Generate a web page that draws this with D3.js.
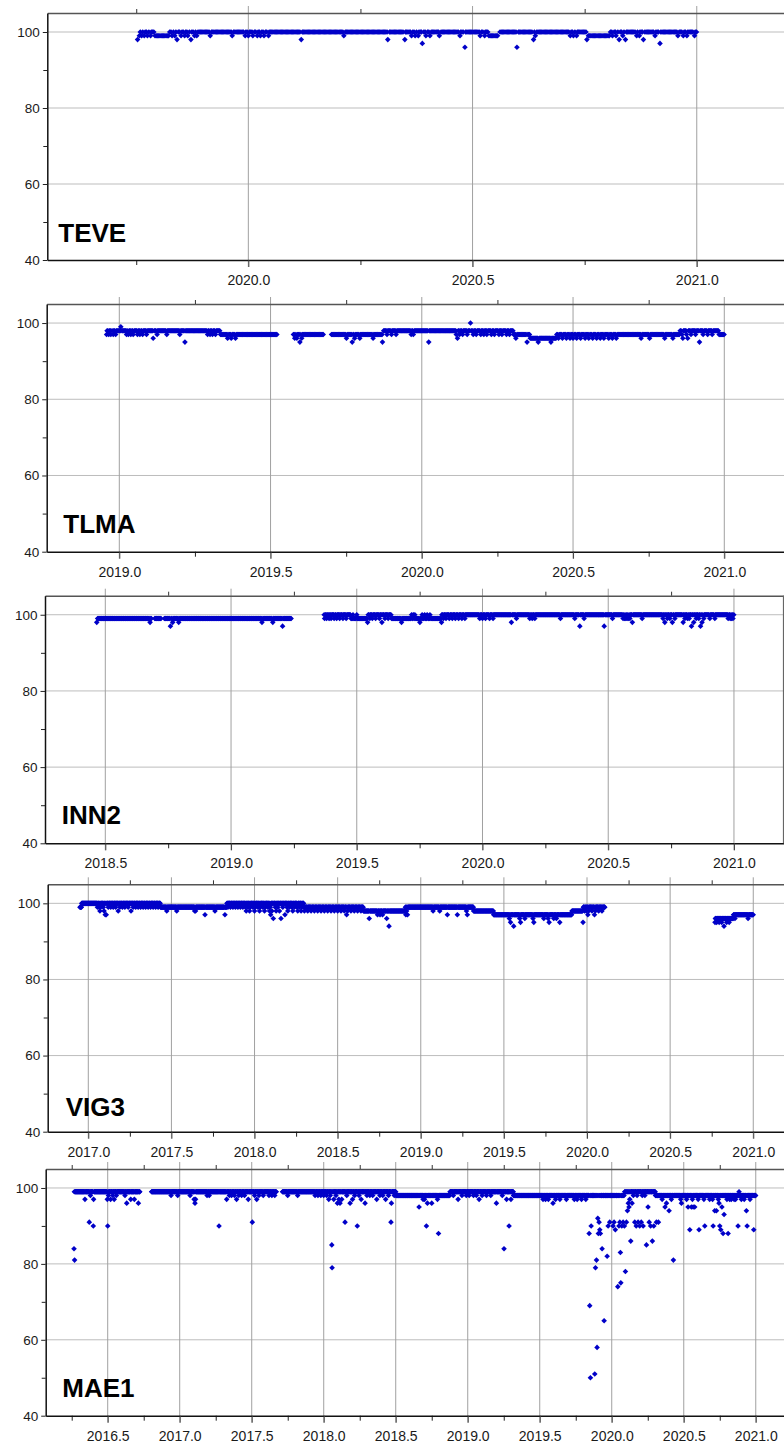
<!DOCTYPE html>
<html>
<head>
<meta charset="utf-8">
<script src="https://cdn.jsdelivr.net/npm/d3@7"></script>
<style>
  html, body { margin: 0; padding: 0; background: #fff; }
  svg { display: block; }
</style>
</head>
<body>
<svg id="chart" width="784" height="1443"></svg>
<script>
// ---- data: daily percentage values per station, decimal years ----
// runs: [start, end, value] stretches where every day has the same value
// dips: [time, value] single days that differ from the run around them

const stationNames = ["TEVE", "TLMA", "INN2", "VIG3", "MAE1"];

const yTicks = [40, 60, 80, 100];
const yMinorTicks = [50, 70, 90];

const xTicksTEVE = [2020.0, 2020.5, 2021.0];
const xTicksTLMA = [2019.0, 2019.5, 2020.0, 2020.5, 2021.0];
const xTicksINN2 = [2018.5, 2019.0, 2019.5, 2020.0, 2020.5, 2021.0];
const xTicksVIG3 = [2017.0, 2017.5, 2018.0, 2018.5, 2019.0, 2019.5, 2020.0, 2020.5, 2021.0];
const xTicksMAE1 = [2016.5, 2017.0, 2017.5, 2018.0, 2018.5, 2019.0, 2019.5, 2020.0, 2020.5, 2021.0];

const teveRuns = [
  [2019.753, 2019.788, 100], [2019.791, 2019.822, 99], [2019.825, 2020.533, 100],
  [2020.536, 2020.557, 99], [2020.560, 2020.756, 100], [2020.759, 2020.806, 99],
  [2020.809, 2021.000, 100]
];
const teveDips = [
  [2019.753, 98], [2019.757, 99], [2019.762, 99], [2019.768, 99], [2019.775, 99], [2019.782, 99],
  [2019.830, 99], [2019.836, 99], [2019.841, 98], [2019.850, 99], [2019.858, 99], [2019.865, 99],
  [2019.872, 98], [2019.880, 99], [2019.885, 99], [2019.915, 99], [2019.964, 99], [2019.993, 99],
  [2020.000, 99], [2020.010, 99], [2020.020, 99], [2020.027, 99], [2020.035, 99], [2020.045, 99],
  [2020.118, 98], [2020.213, 99], [2020.311, 98], [2020.349, 98], [2020.364, 99], [2020.372, 99],
  [2020.379, 99], [2020.388, 97], [2020.396, 99], [2020.405, 99], [2020.426, 99], [2020.472, 99],
  [2020.483, 96], [2020.517, 99], [2020.527, 99], [2020.599, 96], [2020.636, 98], [2020.640, 99],
  [2020.718, 99], [2020.725, 99], [2020.732, 99], [2020.755, 98], [2020.812, 99], [2020.820, 99],
  [2020.827, 98], [2020.835, 99], [2020.841, 98], [2020.866, 99], [2020.872, 99], [2020.881, 98],
  [2020.907, 99], [2020.918, 97], [2020.958, 99], [2020.970, 99], [2020.978, 99], [2020.995, 99]
];

const tlmaRuns = [
  [2018.956, 2019.333, 98], [2019.336, 2019.520, 97], [2019.575, 2019.674, 97],
  [2019.702, 2019.872, 97], [2019.875, 2020.301, 98], [2020.304, 2020.355, 97],
  [2020.358, 2020.443, 96], [2020.446, 2020.852, 97], [2020.855, 2020.979, 98],
  [2020.982, 2021.000, 97]
];
const tlmaDips = [
  [2018.958, 97], [2018.965, 97], [2018.972, 97], [2018.980, 97], [2018.988, 97], [2019.005, 99],
  [2019.024, 97], [2019.030, 97], [2019.038, 97], [2019.046, 97], [2019.060, 97], [2019.068, 97],
  [2019.077, 97], [2019.090, 97], [2019.112, 96], [2019.125, 97], [2019.157, 97], [2019.200, 97],
  [2019.217, 95], [2019.292, 97], [2019.300, 97], [2019.308, 97], [2019.318, 97],
  [2019.358, 96], [2019.370, 96], [2019.384, 96],
  [2019.580, 96], [2019.587, 96], [2019.597, 95], [2019.603, 96],
  [2019.751, 96], [2019.770, 95], [2019.778, 96], [2019.795, 96], [2019.839, 96], [2019.870, 95],
  [2019.885, 97], [2019.900, 97], [2019.915, 97], [2019.965, 97], [2019.972, 97], [2020.023, 95],
  [2020.114, 97], [2020.118, 96], [2020.125, 97], [2020.135, 97], [2020.150, 97], [2020.161, 100],
  [2020.170, 97], [2020.180, 97], [2020.195, 97], [2020.205, 97], [2020.215, 97], [2020.230, 97],
  [2020.240, 97], [2020.255, 97], [2020.265, 97], [2020.280, 97], [2020.290, 97],
  [2020.311, 96], [2020.348, 95], [2020.385, 95], [2020.427, 95],
  [2020.452, 96], [2020.465, 96], [2020.478, 96], [2020.490, 96], [2020.500, 96], [2020.512, 96],
  [2020.525, 96], [2020.540, 96], [2020.552, 96], [2020.565, 96], [2020.578, 96], [2020.590, 96],
  [2020.602, 96], [2020.618, 96], [2020.630, 96], [2020.643, 96], [2020.725, 96], [2020.753, 96],
  [2020.803, 96], [2020.830, 96],
  [2020.860, 97], [2020.863, 96], [2020.875, 97], [2020.879, 96], [2020.890, 97], [2020.905, 97],
  [2020.918, 95], [2020.930, 97], [2020.945, 97], [2020.960, 97]
];

const inn2Runs = [
  [2018.466, 2018.682, 99], [2018.698, 2018.722, 99], [2018.735, 2019.238, 99],
  [2019.369, 2019.475, 100], [2019.478, 2019.540, 99], [2019.543, 2019.636, 100],
  [2019.639, 2019.835, 99], [2019.838, 2021.000, 100]
];
const inn2Dips = [
  [2018.466, 98], [2018.678, 98], [2018.759, 97], [2018.768, 98], [2018.792, 98], [2019.123, 98],
  [2019.166, 98], [2019.205, 97],
  [2019.372, 99], [2019.380, 99], [2019.390, 99], [2019.398, 99], [2019.410, 99], [2019.420, 99],
  [2019.432, 99], [2019.445, 99], [2019.458, 99], [2019.485, 100], [2019.500, 100], [2019.543, 98],
  [2019.552, 99], [2019.562, 99], [2019.575, 99], [2019.590, 99], [2019.600, 98], [2019.612, 99],
  [2019.625, 99], [2019.678, 98], [2019.718, 100], [2019.725, 100], [2019.731, 100], [2019.751, 98],
  [2019.760, 100], [2019.770, 100], [2019.780, 100], [2019.791, 100], [2019.837, 98],
  [2019.845, 99], [2019.855, 99], [2019.868, 99], [2019.880, 99], [2019.892, 99], [2019.905, 99],
  [2019.918, 99], [2019.930, 99], [2019.989, 99], [2020.000, 99], [2020.012, 99], [2020.028, 99],
  [2020.042, 99], [2020.115, 98], [2020.135, 99], [2020.188, 99], [2020.198, 99], [2020.208, 99],
  [2020.310, 99], [2020.367, 99], [2020.387, 97], [2020.404, 99], [2020.484, 97], [2020.517, 99],
  [2020.559, 99], [2020.565, 99], [2020.570, 99], [2020.575, 99], [2020.580, 99], [2020.586, 99],
  [2020.596, 98], [2020.635, 99], [2020.718, 99], [2020.725, 98], [2020.735, 99], [2020.745, 99],
  [2020.755, 98], [2020.765, 99], [2020.798, 98], [2020.805, 99], [2020.815, 99], [2020.822, 99],
  [2020.831, 97], [2020.840, 98], [2020.850, 99], [2020.860, 99], [2020.867, 97], [2020.873, 98],
  [2020.880, 99], [2020.904, 99], [2020.924, 99], [2020.977, 99], [2020.985, 99], [2020.990, 99],
  [2020.996, 99]
];

const vig3Runs = [
  [2016.950, 2016.957, 99], [2016.960, 2017.431, 100], [2017.434, 2017.832, 99],
  [2017.835, 2018.293, 100], [2018.296, 2018.654, 99], [2018.657, 2018.904, 98],
  [2018.907, 2019.315, 99], [2019.318, 2019.435, 98], [2019.438, 2019.906, 97],
  [2019.909, 2019.976, 98], [2019.979, 2020.107, 99], [2020.768, 2020.879, 96],
  [2020.882, 2021.000, 97]
];
const vig3Dips = [
  [2017.055, 99], [2017.065, 99], [2017.070, 98], [2017.075, 99], [2017.090, 99], [2017.095, 98],
  [2017.102, 97], [2017.108, 97], [2017.120, 99], [2017.135, 99], [2017.150, 99], [2017.165, 99],
  [2017.180, 98], [2017.190, 99], [2017.205, 99], [2017.220, 99], [2017.240, 99], [2017.257, 98],
  [2017.270, 99], [2017.285, 99], [2017.300, 99], [2017.315, 99], [2017.330, 99], [2017.345, 99],
  [2017.360, 99], [2017.375, 99], [2017.390, 99], [2017.405, 99], [2017.420, 99],
  [2017.472, 98], [2017.532, 98], [2017.640, 98], [2017.645, 98], [2017.702, 97], [2017.762, 98],
  [2017.822, 97],
  [2017.840, 99], [2017.855, 99], [2017.870, 99], [2017.885, 99], [2017.900, 99], [2017.915, 99],
  [2017.930, 99], [2017.945, 99], [2017.950, 98], [2017.960, 99], [2017.970, 98], [2017.975, 99],
  [2017.990, 99], [2018.000, 98], [2018.005, 99], [2018.020, 99], [2018.030, 98], [2018.035, 99],
  [2018.050, 99], [2018.060, 98], [2018.065, 99], [2018.080, 99], [2018.090, 98], [2018.095, 99],
  [2018.097, 97], [2018.105, 98], [2018.113, 96], [2018.125, 99], [2018.130, 98], [2018.140, 99],
  [2018.150, 98], [2018.159, 96], [2018.170, 99], [2018.183, 97], [2018.195, 99], [2018.200, 98],
  [2018.210, 99], [2018.225, 99], [2018.230, 98], [2018.240, 99], [2018.255, 99], [2018.260, 98],
  [2018.270, 99], [2018.280, 98], [2018.285, 99],
  [2018.300, 98], [2018.320, 98], [2018.340, 98], [2018.360, 98], [2018.380, 98], [2018.400, 98],
  [2018.420, 98], [2018.440, 98], [2018.460, 98], [2018.480, 98], [2018.500, 98], [2018.520, 98],
  [2018.540, 98], [2018.554, 97], [2018.560, 98], [2018.580, 98], [2018.600, 98], [2018.620, 98],
  [2018.640, 98],
  [2018.690, 96], [2018.740, 97], [2018.755, 97], [2018.770, 97], [2018.795, 96], [2018.809, 94],
  [2018.910, 97], [2018.920, 97], [2018.915, 98],
  [2019.074, 98], [2019.114, 98], [2019.160, 97], [2019.220, 97], [2019.275, 98], [2019.280, 97],
  [2019.533, 96], [2019.540, 95], [2019.559, 94], [2019.595, 96], [2019.600, 95], [2019.626, 96],
  [2019.675, 96], [2019.680, 95], [2019.740, 96], [2019.766, 96], [2019.772, 95], [2019.800, 96],
  [2019.816, 96], [2019.836, 95],
  [2019.976, 95], [2019.985, 98], [2019.995, 98], [2020.005, 97], [2020.010, 98], [2020.030, 98],
  [2020.045, 97], [2020.050, 98], [2020.070, 98], [2020.090, 98],
  [2020.770, 95], [2020.780, 95], [2020.795, 95], [2020.810, 95], [2020.824, 94], [2020.840, 95],
  [2020.855, 95], [2020.890, 96], [2020.969, 96]
];

const mae1Runs = [
  [2016.266, 2016.724, 99], [2016.806, 2017.669, 99], [2017.715, 2018.500, 99],
  [2018.503, 2018.875, 98], [2018.878, 2019.315, 99], [2019.318, 2020.085, 98],
  [2020.088, 2020.300, 99], [2020.303, 2021.000, 98]
];
const mae1Dips = [
  [2016.266, 84], [2016.270, 81], [2016.342, 97], [2016.372, 91], [2016.380, 98], [2016.400, 90],
  [2016.402, 97], [2016.497, 97], [2016.500, 90], [2016.505, 98], [2016.520, 97], [2016.535, 98],
  [2016.545, 97], [2016.560, 98], [2016.620, 98], [2016.632, 96], [2016.660, 97], [2016.685, 97],
  [2016.713, 96],
  [2016.940, 98], [2016.986, 98], [2017.072, 98], [2017.100, 97], [2017.106, 96], [2017.110, 97],
  [2017.190, 98], [2017.205, 98], [2017.273, 90], [2017.326, 97], [2017.345, 98], [2017.360, 98],
  [2017.380, 98], [2017.395, 97], [2017.410, 98], [2017.430, 98], [2017.450, 98], [2017.476, 97],
  [2017.504, 91], [2017.520, 98], [2017.535, 97], [2017.550, 98], [2017.580, 98], [2017.620, 98],
  [2017.640, 98], [2017.660, 98],
  [2017.750, 98], [2017.819, 98], [2017.940, 98], [2017.960, 98], [2017.980, 98], [2018.000, 98],
  [2018.020, 98], [2018.035, 97], [2018.045, 98], [2018.056, 85], [2018.058, 79], [2018.070, 97],
  [2018.085, 98], [2018.095, 96], [2018.105, 97], [2018.113, 96], [2018.125, 97], [2018.148, 91],
  [2018.160, 98], [2018.183, 96], [2018.200, 97], [2018.215, 98], [2018.233, 90], [2018.245, 98],
  [2018.260, 97], [2018.287, 96], [2018.300, 98], [2018.320, 98], [2018.340, 98], [2018.368, 97],
  [2018.390, 98], [2018.410, 98], [2018.430, 97], [2018.450, 98], [2018.467, 91], [2018.470, 96],
  [2018.490, 98],
  [2018.662, 95], [2018.690, 97], [2018.700, 97], [2018.713, 90], [2018.720, 96], [2018.750, 96],
  [2018.790, 97], [2018.797, 88],
  [2018.900, 98], [2018.933, 97], [2018.960, 98], [2018.990, 98], [2019.010, 98], [2019.040, 98],
  [2019.060, 98], [2019.079, 97], [2019.100, 98], [2019.130, 98], [2019.160, 98], [2019.199, 96],
  [2019.240, 98], [2019.252, 84], [2019.270, 97], [2019.287, 90], [2019.300, 97],
  [2019.523, 97], [2019.540, 97], [2019.560, 97], [2019.592, 96], [2019.610, 97], [2019.640, 97],
  [2019.685, 97], [2019.740, 97], [2019.760, 97], [2019.790, 97], [2019.820, 97],
  [2019.843, 88], [2019.847, 69], [2019.852, 50], [2019.857, 90], [2019.882, 51], [2019.887, 79],
  [2019.894, 81], [2019.898, 58], [2019.903, 92], [2019.907, 88], [2019.912, 91], [2019.917, 89],
  [2019.921, 88], [2019.933, 84], [2019.947, 65], [2019.968, 82], [2019.975, 90], [2019.986, 91],
  [2020.009, 90], [2020.016, 91], [2020.025, 89], [2020.042, 74], [2020.050, 90], [2020.056, 91],
  [2020.060, 83], [2020.063, 75], [2020.070, 90], [2020.079, 91], [2020.088, 90], [2020.095, 78],
  [2020.102, 91], [2020.109, 94], [2020.115, 96], [2020.120, 95], [2020.125, 97], [2020.132, 86],
  [2020.141, 96], [2020.150, 98], [2020.160, 91], [2020.170, 90], [2020.176, 98], [2020.183, 91],
  [2020.194, 90], [2020.205, 91], [2020.212, 98], [2020.218, 90], [2020.230, 98], [2020.241, 85],
  [2020.252, 95], [2020.260, 91], [2020.270, 90], [2020.282, 86], [2020.292, 90],
  [2020.310, 91], [2020.324, 91], [2020.350, 97], [2020.370, 95], [2020.380, 96], [2020.398, 94],
  [2020.414, 97], [2020.428, 81], [2020.479, 97], [2020.484, 96], [2020.520, 97], [2020.530, 95],
  [2020.542, 89], [2020.553, 95], [2020.560, 97], [2020.565, 95], [2020.576, 95], [2020.600, 97],
  [2020.606, 89], [2020.640, 97], [2020.646, 90], [2020.680, 97], [2020.700, 97], [2020.704, 90],
  [2020.715, 94], [2020.727, 94], [2020.740, 97], [2020.745, 96], [2020.750, 90], [2020.757, 89],
  [2020.765, 95], [2020.773, 88], [2020.780, 93], [2020.800, 97], [2020.808, 88], [2020.819, 97],
  [2020.830, 97], [2020.850, 97], [2020.860, 97], [2020.877, 90], [2020.884, 99], [2020.900, 97],
  [2020.920, 97], [2020.935, 94], [2020.940, 90], [2020.960, 97], [2020.986, 89]
];

const seriesRuns = [teveRuns, tlmaRuns, inn2Runs, vig3Runs, mae1Runs];
const seriesDips = [teveDips, tlmaDips, inn2Dips, vig3Dips, mae1Dips];
const seriesXTicks = [xTicksTEVE, xTicksTLMA, xTicksINN2, xTicksVIG3, xTicksMAE1];

// ---- layout of the five stacked panels ----
const yDomain = [40, 105];
const panels = [
  { left: 47.3, right: 786,   top: 13,    bottom: 260,    t0: 2019.5517, t1: 2021.199, labelDx: 11,   labelDy: 18.3 },
  { left: 46.7, right: 786,   top: 304,   bottom: 551.7,  t0: 2018.760,  t1: 2021.204, labelDx: 16.6, labelDy: 18.4 },
  { left: 45,   right: 783.5, top: 595.7, bottom: 843.3,  t0: 2018.2602, t1: 2021.197, labelDx: 16.7, labelDy: 19 },
  { left: 47.7, right: 786,   top: 884.3, bottom: 1131.7, t0: 2016.7558, t1: 2021.197, labelDx: 18,   labelDy: 16 },
  { left: 45.7, right: 786,   top: 1169,  bottom: 1415.7, t0: 2016.0694, t1: 2021.210, labelDx: 16.6, labelDy: 19 }
];

const FONT = "'Liberation Sans', Arial, Helvetica, sans-serif";
const POINT_COLOR = "#0000c8";
const DAY = 1 / 365.25;

// one value per day: runs expanded day by day, single-day values replace the run value
function dailySeries(runs, dips) {
  const byDay = new Map();
  runs.forEach(([a, b, v]) => {
    for (let k = Math.round(a / DAY); k <= Math.round(b / DAY); k++) byDay.set(k, [k * DAY, v]);
  });
  const singles = dips.map(([t, v]) => { byDay.delete(Math.round(t / DAY)); return [t, v]; });
  return Array.from(byDay.values()).concat(singles);
}

const diamond = "M0,-2.8L2.8,0L0,2.8L-2.8,0Z";
const svg = d3.select("#chart");

stationNames.forEach((name, i) => {
  const P = panels[i];
  const majors = seriesXTicks[i];
  const x = d3.scaleLinear().domain([P.t0, P.t1]).range([P.left, P.right]);
  const y = d3.scaleLinear().domain(yDomain).range([P.bottom, P.top]);

  // quarter-year minor ticks between the labelled half-year ticks
  const minors = [];
  majors.forEach(m => [m - 0.25, m + 0.25].forEach(q => {
    if (q > P.t0 && q < P.t1 && !minors.includes(q) && !majors.includes(q)) minors.push(q);
  }));

  const g = svg.append("g").attr("class", "panel");

  // horizontal grid
  g.append("g").selectAll("line")
    .data(yTicks.filter(v => v > yDomain[0]))
    .join("line")
    .attr("x1", P.left).attr("x2", P.right)
    .attr("y1", d => y(d)).attr("y2", d => y(d))
    .attr("stroke", "#bdbdbd").attr("stroke-width", 1);

  // vertical grid at half-year ticks, running through both tick rows
  g.append("g").selectAll("line")
    .data(majors)
    .join("line")
    .attr("x1", d => x(d)).attr("x2", d => x(d))
    .attr("y1", P.top - 7).attr("y2", P.bottom + 7)
    .attr("stroke", "#a0a0a0").attr("stroke-width", 1);

  // top axis: quarter-year ticks and frame
  const topAxis = g.append("g")
    .attr("transform", `translate(0,${P.top})`)
    .call(d3.axisTop(x).tickValues(minors).tickSize(4).tickSizeOuter(0).tickFormat(""));
  topAxis.select(".domain").attr("stroke", "#555").attr("stroke-width", 1.4);
  topAxis.selectAll(".tick line").attr("stroke", "#333");

  // bottom axis with labels
  const bottomMinor = g.append("g")
    .attr("transform", `translate(0,${P.bottom})`)
    .call(d3.axisBottom(x).tickValues(minors).tickSize(5).tickSizeOuter(0).tickFormat(""));
  bottomMinor.select(".domain").remove();
  bottomMinor.selectAll(".tick line").attr("stroke", "#222");

  const bottomAxis = g.append("g")
    .attr("transform", `translate(0,${P.bottom})`)
    .call(d3.axisBottom(x).tickValues(majors).tickSize(7).tickSizeOuter(0)
      .tickPadding(8).tickFormat(d3.format(".1f")));
  bottomAxis.select(".domain").attr("stroke", "#111").attr("stroke-width", 1.5);
  bottomAxis.selectAll(".tick line").attr("stroke", "#444");
  bottomAxis.selectAll("text")
    .attr("font-family", FONT).attr("font-size", 14).attr("fill", "#1a1a1a");

  // left axis
  const leftMinor = g.append("g")
    .attr("transform", `translate(${P.left},0)`)
    .call(d3.axisLeft(y).tickValues(yMinorTicks).tickSize(4).tickSizeOuter(0).tickFormat(""));
  leftMinor.select(".domain").remove();
  leftMinor.selectAll(".tick line").attr("stroke", "#222");

  const leftAxis = g.append("g")
    .attr("transform", `translate(${P.left},0)`)
    .call(d3.axisLeft(y).tickValues(yTicks).tickSize(4.5).tickSizeOuter(0).tickPadding(3));
  leftAxis.select(".domain").attr("stroke", "#111").attr("stroke-width", 1.5);
  leftAxis.selectAll(".tick line").attr("stroke", "#222");
  leftAxis.selectAll("text")
    .attr("font-family", FONT).attr("font-size", 13.5).attr("fill", "#1a1a1a");

  // right frame
  g.append("line")
    .attr("x1", P.right).attr("x2", P.right).attr("y1", P.top).attr("y2", P.bottom)
    .attr("stroke", "#666").attr("stroke-width", 1.2);

  // daily values
  const pts = dailySeries(seriesRuns[i], seriesDips[i]);
  g.append("g").selectAll("path")
    .data(pts)
    .join("path")
    .attr("d", diamond)
    .attr("transform", d => `translate(${x(d[0])},${y(d[1])})`)
    .attr("fill", POINT_COLOR);

  // station label
  g.append("text")
    .attr("x", P.left + P.labelDx)
    .attr("y", P.bottom - P.labelDy)
    .attr("font-family", FONT).attr("font-weight", "bold").attr("font-size", 26)
    .attr("fill", "#000")
    .text(name);
});
</script>
</body>
</html>
